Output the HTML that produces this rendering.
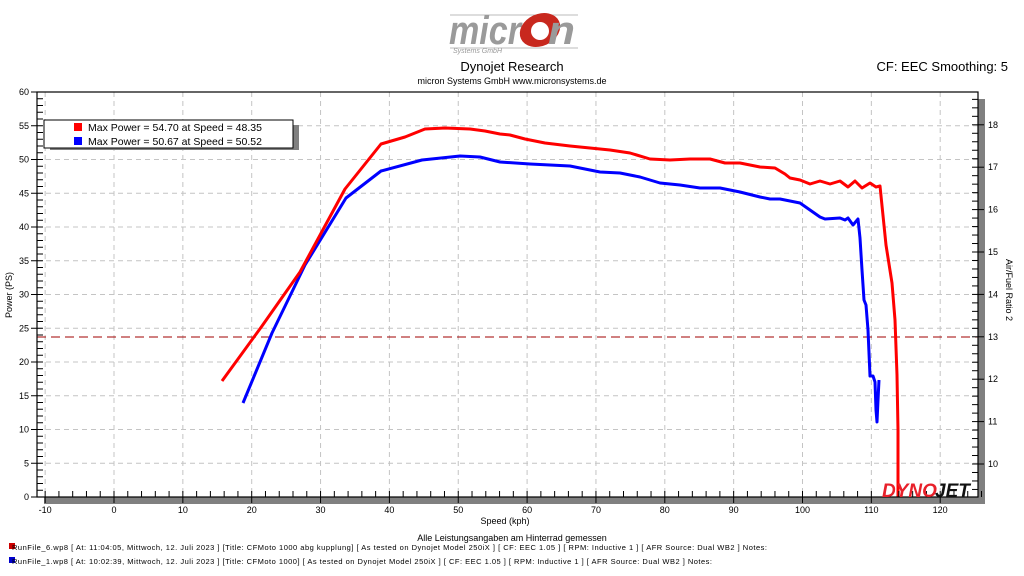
<!DOCTYPE html>
<html><head><meta charset="utf-8"><style>
html,body{margin:0;padding:0;background:#fff;width:1024px;height:576px;overflow:hidden}
svg text{font-family:"Liberation Sans","DejaVu Sans",sans-serif}
</style></head><body>
<svg id="s" width="1024" height="576" viewBox="0 0 1024 576" xmlns="http://www.w3.org/2000/svg">
<!-- logo -->
<line x1="450" y1="15" x2="578" y2="15" stroke="#bbb" stroke-width="1"/>
<line x1="450" y1="48" x2="578" y2="48" stroke="#bbb" stroke-width="1"/>
<text x="449" y="44" font-size="40" font-weight="bold" font-style="italic" fill="#9a9a9a" textLength="72" lengthAdjust="spacingAndGlyphs">micr</text>
<ellipse cx="540" cy="30" rx="21" ry="16" fill="#c8281e" transform="rotate(-25 540 30)"/>
<ellipse cx="540" cy="31" rx="9" ry="9" fill="#fff"/>
<text x="548" y="44" font-size="40" font-weight="bold" font-style="italic" fill="#9a9a9a" textLength="27" lengthAdjust="spacingAndGlyphs">n</text>
<text x="453" y="53" font-size="7" fill="#999" font-style="italic">Systems GmbH</text>
<text x="512" y="71" font-size="13" text-anchor="middle" fill="#000">Dynojet Research</text>
<text x="512" y="84" font-size="9" text-anchor="middle" fill="#000">micron Systems GmbH  www.micronsystems.de</text>
<text x="1008" y="71" font-size="13" text-anchor="end" fill="#000">CF: EEC Smoothing: 5</text>
<!-- shadow -->
<rect x="978" y="99" width="7" height="405" fill="#808080"/>
<rect x="44" y="497" width="941" height="7" fill="#808080"/>
<g id="grid"></g>
<!-- legend -->
<rect x="50" y="125" width="249" height="25" fill="#808080"/>
<rect x="44" y="120" width="249" height="28" fill="#fff" stroke="#000" stroke-width="1"/>
<rect x="74" y="123" width="8" height="8" fill="#f00"/>
<rect x="74" y="137" width="8" height="8" fill="#00f"/>
<text x="88" y="131" font-size="10.5">Max Power = 54.70 at Speed = 48.35</text>
<text x="88" y="145" font-size="10.5">Max Power = 50.67 at Speed = 50.52</text>
<!-- AFR line -->
<line x1="37" y1="337" x2="978" y2="337" stroke="#a00000" stroke-width="1" stroke-dasharray="9,5"/>
<polyline fill="none" stroke="#00f" stroke-width="3" stroke-linejoin="round" points="243,403 272,333 305,265 346,198 381,171 422,160 460,156 480,157 500,162 530,164 570,166 600,172 620,173 640,177 660,183 680,185 700,188 720,188 740,192 760,197 770,199 780,199 790,201 800,203 810,210 820,217 825,219 840,218 845,220 848,218 853,225 858,219 860,238 862,270 864,300 866,305 868,330 870,376 873,376 875,382 876,410 877,422 878,400 879,380"/>
<polyline fill="none" stroke="#f00" stroke-width="3" stroke-linejoin="round" points="222,381 262,326 300,272 345,189 381,144 405,137 425,129 445,128 470,129 485,131 500,134 510,135 525,139 545,143 570,146 590,148 610,150 630,153 650,159 670,160 690,159 710,159 725,163 740,163 760,167 775,168 785,174 790,178 800,180 810,184 820,181 830,184 840,181 848,187 855,181 862,188 870,183 876,187 880,186 886,245 892,283 895,320 897,375 898,430 898,497"/>
<!-- frame -->
<rect x="37" y="92" width="941" height="405" fill="none" stroke="#000" stroke-width="1.2"/>
<g id="ticks"></g>
<text x="882" y="497" font-size="19" font-weight="bold" font-style="italic" fill="#e8202a">DYNO</text>
<text x="935" y="497" font-size="19" font-weight="bold" font-style="italic" fill="#111">JET</text>
<text x="505" y="524" font-size="9" text-anchor="middle">Speed (kph)</text>
<text x="512" y="541" font-size="9" text-anchor="middle">Alle Leistungsangaben am Hinterrad gemessen</text>
<text transform="translate(12,295) rotate(-90)" font-size="9" text-anchor="middle">Power (PS)</text>
<text transform="translate(1006,290) rotate(90)" font-size="9" text-anchor="middle">Air/Fuel Ratio 2</text>
<rect x="9" y="543" width="6" height="6" fill="#c00"/>
<rect x="9" y="557" width="6" height="6" fill="#00c"/>
<text x="12" y="550" font-size="7.5" textLength="755">RunFile_6.wp8 [ At: 11:04:05, Mittwoch, 12. Juli 2023 ] [Title: CFMoto 1000 abg kupplung] [ As tested on Dynojet Model 250iX ] [ CF: EEC 1.05 ] [ RPM: Inductive 1 ] [ AFR Source: Dual WB2 ] Notes:</text>
<text x="12" y="564" font-size="7.5" textLength="700">RunFile_1.wp8 [ At: 10:02:39, Mittwoch, 12. Juli 2023 ] [Title: CFMoto 1000] [ As tested on Dynojet Model 250iX ] [ CF: EEC 1.05 ] [ RPM: Inductive 1 ] [ AFR Source: Dual WB2 ] Notes:</text>
</svg>
<script>
var ns="http://www.w3.org/2000/svg",g=document.getElementById('grid'),t=document.getElementById('ticks');
function el(p,n,a){var e=document.createElementNS(ns,n);for(var k in a)e.setAttribute(k,a[k]);p.appendChild(e);return e;}
function X(v){return 114+6.885*v;}function Y(p){return 497-6.75*p;}function A(r){return 464-42.4*(r-10);}
for(var v=-10;v<=120;v+=10){var x=X(v);el(g,'line',{x1:x,y1:92,x2:x,y2:497,stroke:'#c4c4c4','stroke-dasharray':'5,4'});
el(t,'line',{x1:x,y1:491,x2:x,y2:503,stroke:'#000'});var tx=el(t,'text',{x:x,y:513,'font-size':9,'text-anchor':'middle'});tx.textContent=v;}
for(var v=-10;v<=126;v+=2){if(v%10)el(t,'line',{x1:X(v),y1:497,x2:X(v),y2:491,stroke:'#000'});}
for(var p=0;p<=60;p+=5){var y=Y(p);if(p>0&&p<60)el(g,'line',{x1:37,y1:y,x2:978,y2:y,stroke:'#c4c4c4','stroke-dasharray':'5,4'});
el(t,'line',{x1:31,y1:y,x2:43,y2:y,stroke:'#000'});var ty=el(t,'text',{x:29,y:y+3,'font-size':9,'text-anchor':'end'});ty.textContent=p;}
for(var p=0;p<=60;p++){if(p%5)el(t,'line',{x1:37,y1:Y(p),x2:43,y2:Y(p),stroke:'#000'});}
for(var r=9.4;r<=18.75;r+=0.2){var y=A(r);if(y<92||y>497)continue;var maj=Math.abs(r-Math.round(r))<0.01;
el(t,'line',{x1:972,y1:y,x2:maj?984:978,y2:y,stroke:'#000'});
if(maj){var tr=el(t,'text',{x:988,y:y+3,'font-size':9});tr.textContent=Math.round(r);}}
</script>
</body></html>
